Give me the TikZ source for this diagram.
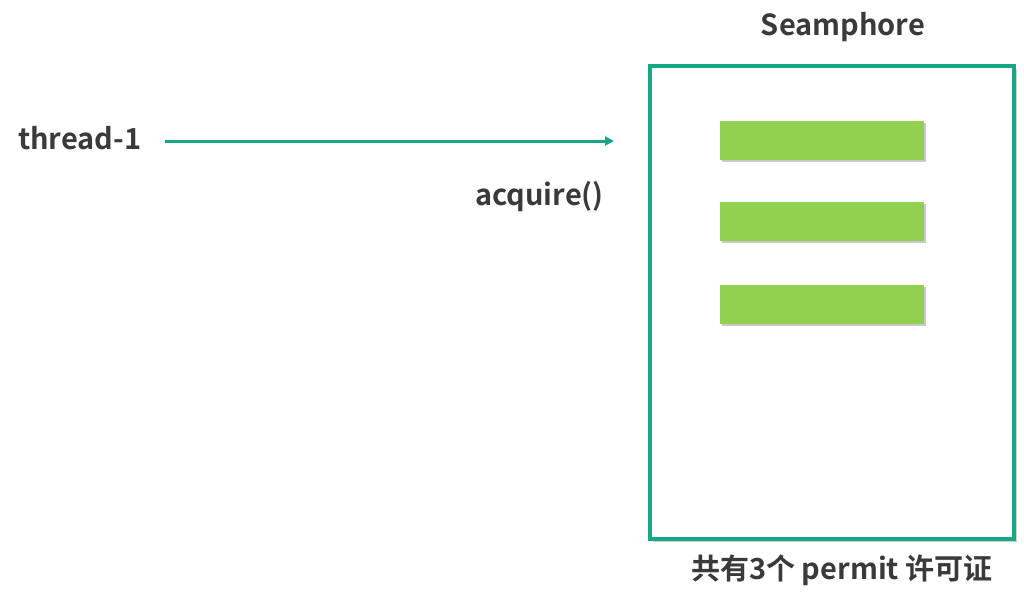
\documentclass[tikz,border=0pt]{standalone}
\usepackage{fontspec}
\setmainfont{Noto Sans CJK SC}[BoldFont={* Bold}]
\usetikzlibrary{shadows,arrows.meta}
\definecolor{teal1}{HTML}{14A887}
\definecolor{bar}{HTML}{92D050}
\definecolor{txt}{HTML}{3A3A3A}
\tikzset{
  lbl/.style={text=txt,font=\fontsize{29}{34}\selectfont\bfseries,inner sep=0pt},
  permitbar/.style={fill=bar,draw=none,minimum width=204pt,minimum height=39pt,inner sep=0pt,
    drop shadow={shadow xshift=2pt,shadow yshift=-2pt,fill=black!35,opacity=0.6}},
  semabox/.style={draw=teal1,line width=3.5pt,fill=white,
    drop shadow={shadow xshift=3pt,shadow yshift=-3pt,fill=black!30,opacity=0.6}},
}
\begin{document}
\begin{tikzpicture}[x=1pt,y=-1pt]
\useasboundingbox (0,0) rectangle (1024,606);
\node[semabox,minimum width=364pt,minimum height=473pt,anchor=north west,inner sep=0pt] (box) at (648,64) {};
\node[permitbar,anchor=north west] (p1) at (720,121) {};
\node[permitbar,anchor=north west] (p2) at (720,202) {};
\node[permitbar,anchor=north west] (p3) at (720,285) {};
\node[lbl,anchor=west] (t1) at (18,138) {thread-1};
\coordinate (end) at (614,141);
\coordinate (start) at (165,141);
\draw[teal1,line width=3pt,-{Triangle[length=9pt,width=9pt]}] (start) -- (end);
\node[lbl,anchor=east] (acq) at (604,197) {acquire()};
\node[lbl] (sem) at (843,27) {Seamphore};
\node[lbl] (cap) at (842,570) {共有3个 permit 许可证};
\end{tikzpicture}
\end{document}
